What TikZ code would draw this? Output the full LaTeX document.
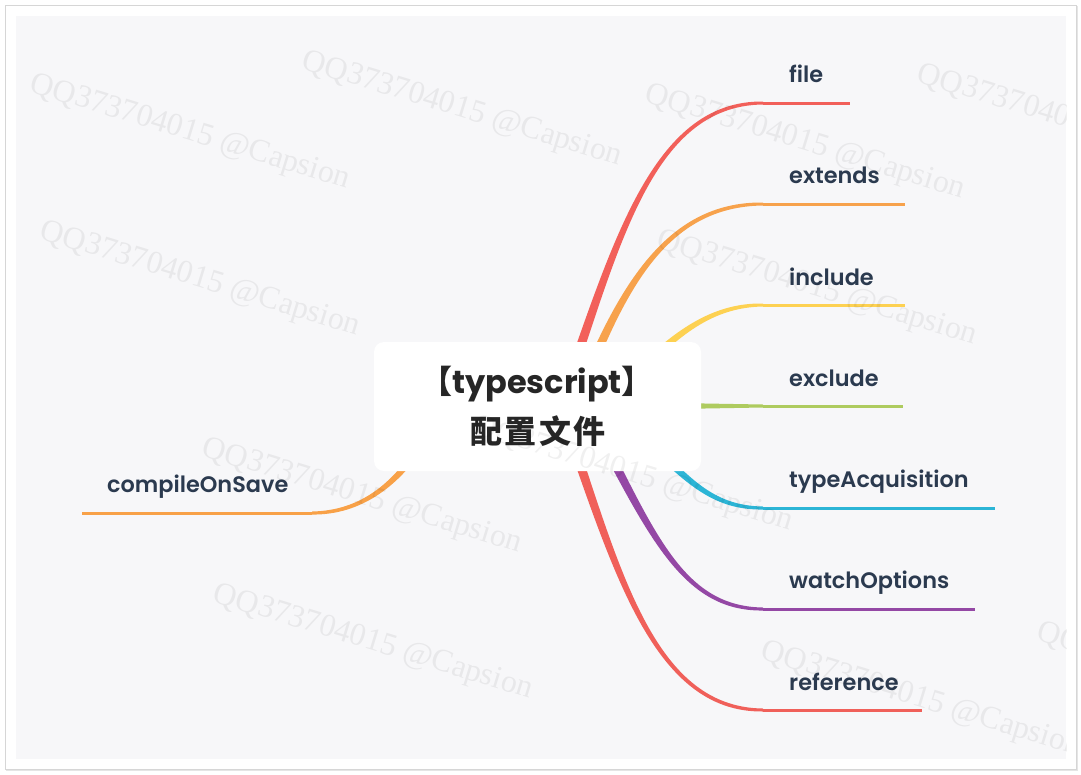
\documentclass[tikz,border=0pt]{standalone}
\usepackage{fontspec}
\setmainfont{Poppins}
\newfontfamily\labfont{Poppins SemiBold}
\newfontfamily\cjkfont{Noto Sans CJK SC}
\newfontfamily\wmfont{Liberation Serif}
\usetikzlibrary{calc}
\definecolor{bgc}{HTML}{F7F7F9}
\definecolor{labc}{HTML}{2B3A4F}
\definecolor{titc}{HTML}{262626}
\definecolor{cfile}{HTML}{F2605A}
\definecolor{cext}{HTML}{F7A24C}
\definecolor{cinc}{HTML}{FDD152}
\definecolor{cexc}{HTML}{AECB5F}
\definecolor{ctyp}{HTML}{2CB5D6}
\definecolor{cwat}{HTML}{9448A5}
\definecolor{cref}{HTML}{F0605A}
\definecolor{ccom}{HTML}{F8A148}
\newcommand\mmbranch[8]{%
 \fill[#5] ($(#1)!#6pt!90:(#2)$) .. controls ($(#2)!#7pt!-90:(#1)$) and ($(#3)!#8pt!90:(#4)$) .. ($(#4)!1.5pt!-90:(#3)$)
   -- ($(#4)!1.5pt!90:(#3)$) .. controls ($(#3)!#8pt!-90:(#4)$) and ($(#2)!#7pt!90:(#1)$) .. ($(#1)!#6pt!-90:(#2)$) -- cycle;}
\tikzset{
  lab/.style={font=\labfont\fontsize{22.4}{22.4}\selectfont, text=labc, inner sep=0pt, anchor=base west},
  ttl/.style={font=\bfseries\fontsize{32}{32}\selectfont, text=titc, inner sep=0pt, anchor=base},
  rootbox/.style={fill=white, rounded corners=10pt, minimum width=327pt, minimum height=129pt, inner sep=0pt},
  wm/.style={font=\wmfont\fontsize{32}{32}\selectfont, text=black, text opacity=0.06, rotate=-17, inner sep=0pt},
  straight/.style={line width=3pt}
}
\begin{document}
\begin{tikzpicture}[x=1pt,y=-1pt]
\useasboundingbox (0,0) rectangle (1081,774);
\fill[white] (0,0) rectangle (1081,774);
\fill[black!10] (6,6) rectangle (1078,771);
\filldraw[fill=white, draw=black!16, line width=1pt] (5,5) rectangle (1076,769);
\fill[bgc] (16,16) rectangle (1066,759);

% coordinates
\coordinate (f0) at (560,406); \coordinate (f1) at (615,250); \coordinate (f2) at (650,103); \coordinate (f3) at (763,103); \coordinate (fe) at (850,103);
\coordinate (e0) at (575,406); \coordinate (e1) at (620,290); \coordinate (e2) at (665,204); \coordinate (e3) at (763,204); \coordinate (ee) at (905,204);
\coordinate (i0) at (640,370); \coordinate (i1) at (680,330); \coordinate (i2) at (715,305); \coordinate (i3) at (763,305); \coordinate (ie) at (905,305);
\coordinate (x0) at (560,406); \coordinate (x1) at (628,406); \coordinate (x2) at (695,406); \coordinate (x3) at (763,406); \coordinate (xe) at (903,406);
\coordinate (t0) at (650,443); \coordinate (t1) at (690,483); \coordinate (t2) at (715,508); \coordinate (t3) at (763,508); \coordinate (te) at (995,508);
\coordinate (w0) at (585,406); \coordinate (w1) at (650,530); \coordinate (w2) at (680,609); \coordinate (w3) at (763,609); \coordinate (we) at (975,609);
\coordinate (r0) at (560,406); \coordinate (r1) at (615,562); \coordinate (r2) at (650,710); \coordinate (r3) at (763,710); \coordinate (re) at (922,710);
\coordinate (c0) at (430,430); \coordinate (c1) at (400,485); \coordinate (c2) at (360,513); \coordinate (c3) at (312,513); \coordinate (ce) at (82,513);

% branches
\mmbranch{f0}{f1}{f2}{f3}{cfile}{5}{3.833}{2.667}
\mmbranch{e0}{e1}{e2}{e3}{cext}{5}{3.833}{2.667}
\mmbranch{i0}{i1}{i2}{i3}{cinc}{4}{3.167}{2.333}
\mmbranch{x0}{x1}{x2}{x3}{cexc}{5}{3.833}{2.667}
\mmbranch{t0}{t1}{t2}{t3}{ctyp}{4}{3.167}{2.333}
\mmbranch{w0}{w1}{w2}{w3}{cwat}{5}{3.833}{2.667}
\mmbranch{r0}{r1}{r2}{r3}{cref}{5}{3.833}{2.667}
\mmbranch{c0}{c1}{c2}{c3}{ccom}{4}{3.167}{2.333}
\draw[straight, cfile] (f3) -- (fe);
\draw[straight, cext] (e3) -- (ee);
\draw[straight, cinc] (i3) -- (ie);
\draw[straight, cexc] (x3) -- (xe);
\draw[straight, ctyp] (t3) -- (te);
\draw[straight, cwat] (w3) -- (we);
\draw[straight, cref] (r3) -- (re);
\draw[straight, ccom] (c3) -- (ce);

% root
\node[rootbox] (root) at (537.5,406.5) {};
\node[ttl] (title1) at (537,393.5) {{\cjkfont\bfseries 【}typescript{\cjkfont\bfseries 】}};
\node[ttl, font=\cjkfont\bfseries\fontsize{32}{32}\selectfont] (title2) at (538,443) {配\kern2.5pt 置\kern2.5pt 文\kern2.5pt 件};

% labels
\node[lab] (lfile) at (789,82) {file};
\node[lab] (lext) at (789,183) {extends};
\node[lab] (linc) at (789,285) {include};
\node[lab] (lexc) at (789,386) {exclude};
\node[lab] (ltyp) at (789,487) {typeAcquisition};
\node[lab] (lwat) at (789,588) {watchOptions};
\node[lab] (lref) at (789,690) {reference};
\node[lab] (lcom) at (107,492) {compileOnSave};

% watermarks
\begin{scope}
\clip (16,16) rectangle (1066,759);
\foreach \px/\py [count=\k] in {190/133, 462/110, 805/143, 1077/123, 200/280, 817/289, 633/475, 362/497, 373/643, 921/700, 1197/681}
  \node[wm] (wm\k) at (\px,\py) {QQ373704015 @Capsion};
\end{scope}
\end{tikzpicture}
\end{document}
